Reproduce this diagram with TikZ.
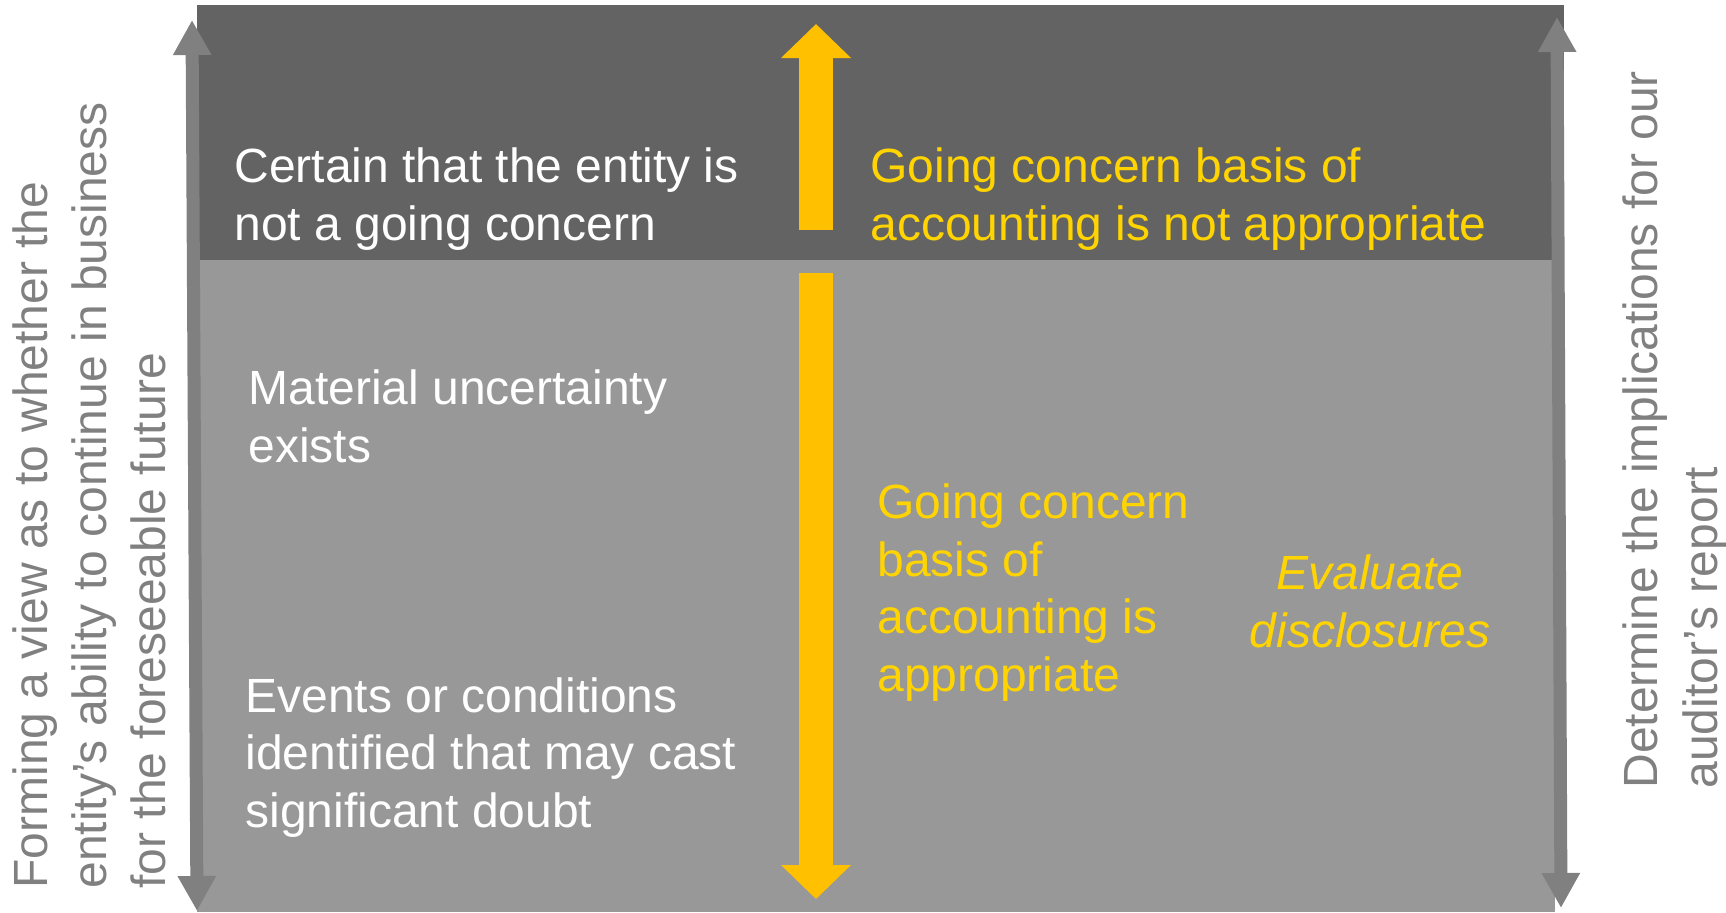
\documentclass[tikz,border=0pt]{standalone}
\usepackage{fontspec}
\setmainfont{Liberation Sans}
\usetikzlibrary{arrows.meta}
\definecolor{darkpanel}{RGB}{99,99,99}
\definecolor{lightpanel}{RGB}{152,152,152}
\definecolor{sidegrey}{RGB}{128,128,128}
\definecolor{amber}{RGB}{255,192,0}
\definecolor{gold}{RGB}{255,212,0}

\begin{document}
\begin{tikzpicture}[x=0.5pt, y=-0.5pt]
\tikzstyle{plain}=[inner sep=0, anchor=base west, align=left, font=\fontsize{24}{28.75}\selectfont]
\tikzstyle{case}=[plain, text=white]
\tikzstyle{result}=[plain, text=gold]
\tikzstyle{sidetext}=[plain, text=sidegrey, rotate=90, font=\fontsize{24}{29.5}\selectfont]
\tikzstyle{sidearrow}=[draw=sidegrey, line width=6.5pt, {Triangle[length=17.5pt, width=18pt]}-{Triangle[length=17.5pt, width=18pt]}]
\tikzstyle{bigarrow}=[draw=amber, line width=17pt, -{Triangle[length=17pt, width=34pt]}]

\useasboundingbox (0,0) rectangle (1726,912);

% panels
\fill[darkpanel] (197,5) rectangle (1564,260);
\fill[lightpanel] (197,260) rectangle (1555,912);

% yellow arrows through the middle
\coordinate (up-start) at (816,230);
\coordinate (up-end) at (816,24);
\coordinate (down-start) at (816,273);
\coordinate (down-end) at (816,899);
\path[bigarrow] (up-start) -- (up-end);
\path[bigarrow] (down-start) -- (down-end);

% grey arrows on both sides
\coordinate (left-top) at (192,20);
\coordinate (left-bot) at (197,911);
\coordinate (right-top) at (1557,17);
\coordinate (right-bot) at (1561,908);
\path[sidearrow] (left-bot) -- (left-top);
\path[sidearrow] (right-bot) -- (right-top);

% left column (anchored on the last line)
\node[case](certain) at (234,240) {Certain that the entity is\\not a going concern};
\node[case](material) at (248,462) {Material uncertainty\\exists};
\node[case](events) at (245,827) {Events or conditions\\identified that may cast\\significant doubt};

% right column
\node[result](not-appropriate) at (870,240) {Going concern basis of\\accounting is not appropriate};
\node[result](appropriate) at (877,691) {Going concern\\basis of\\accounting is\\appropriate};
\node[result, anchor=base, align=center, font=\itshape\fontsize{24}{28.75}\selectfont](disclose) at (1370,647) {Evaluate\\disclosures};

% side captions
\node[sidetext](forming) at (165,889) {Forming a view as to whether the\\entity’s ability to continue in business\\for the foreseeable future};
\node[sidetext, font=\fontsize{24}{30}\selectfont](report) at (1717,789) {Determine the implications for our\\auditor’s report};

\end{tikzpicture}
\end{document}
